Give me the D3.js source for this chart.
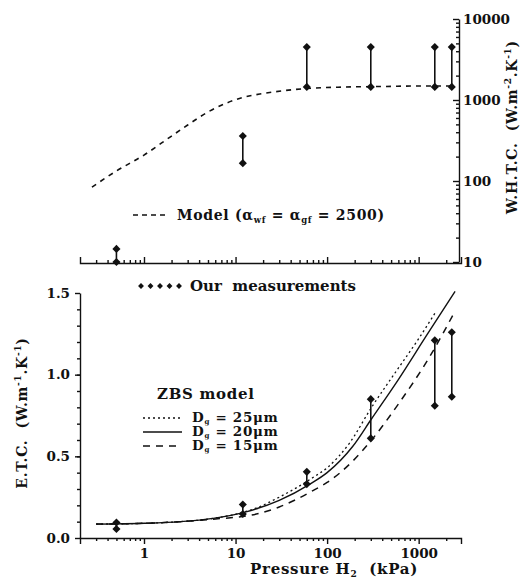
<!DOCTYPE html>
<html>
<head>
<meta charset="utf-8">
<script src="https://cdn.jsdelivr.net/npm/d3@7"></script>
<style>
    body { margin: 0; background: #fff; }
    svg { display: block; }
    text { font-family: "DejaVu Serif", "Liberation Serif", serif; font-weight: bold; fill: #111; white-space: pre; }
    .axis path, .axis line { stroke: #111; stroke-width: 1.4; }
    .axis text { font-size: 13.5px; font-family: "DejaVu Serif", serif; }
    .lbl { letter-spacing: 0.7px; }
</style>
</head>
<body>
<script>
// measurement pressures (kPa) and ranges
var pressures = [0.5, 12, 60, 300, 1500, 2300];
var whtcLow = [10, 166, 1450, 1450, 1450, 1450];
var whtcHigh = [14.5, 360, 4500, 4500, 4500, 4500];
var etcLow = [0.055, 0.147, 0.33, 0.61, 0.81, 0.865];
var etcHigh = [0.095, 0.205, 0.405, 0.85, 1.21, 1.26];

// W.H.T.C. model curve
var modelP = [0.27, 0.5, 1, 2, 3, 5, 8, 12, 20, 35, 60, 150, 400, 1000, 2300];
var modelW = [84, 133, 209, 359, 491, 711, 918, 1074, 1202, 1310, 1387, 1445, 1468, 1490, 1490];

// ZBS model curves
var zbsP25 = [0.3, 1, 2.5, 5.7, 18, 30, 70, 100, 175, 306, 600, 1000, 1520];
var zbs25 = [0.085, 0.09, 0.1, 0.12, 0.19, 0.25, 0.37, 0.43, 0.58, 0.8, 1.04, 1.22, 1.38];
var zbsP20 = [0.3, 1, 2.5, 5.7, 13, 30, 65, 100, 190, 306, 600, 1220, 2500];
var zbs20 = [0.085, 0.09, 0.1, 0.12, 0.16, 0.23, 0.33, 0.4, 0.56, 0.73, 0.97, 1.24, 1.51];
var zbsP15 = [0.3, 1, 2.5, 5.7, 18, 30, 70, 100, 190, 306, 600, 1320, 2500];
var zbs15 = [0.085, 0.09, 0.1, 0.115, 0.15, 0.19, 0.29, 0.34, 0.47, 0.6, 0.82, 1.11, 1.39];

var xMajor = [1, 10, 100, 1000];
var etcTicks = [0, 0.5, 1.0, 1.5];
var whtcTicks = [10, 100, 1000, 10000];

var width = 526, height = 580;
var svg = d3.select('body').append('svg')
    .attr('width', width)
    .attr('height', height);

var x = d3.scaleLog().domain([0.2, 2900]).range([80, 461]);
var yTop = d3.scaleLog().domain([10, 10000]).range([262, 19]);
var yBot = d3.scaleLinear().domain([0, 1.5]).range([538, 293]);

// minor tick values on log scales
function logMinor(lo, hi) {
    var out = [];
    for (var e = -1; e <= 4; e++) {
        for (var m = 2; m <= 9; m++) {
            var v = m * Math.pow(10, e);
            if (v >= lo && v <= hi) { out.push(v); }
        }
    }
    return out;
}

// ---- upper panel axes
svg.append('g').attr('class', 'axis')
    .attr('transform', 'translate(0,263)')
    .call(d3.axisTop(x).tickValues(xMajor).tickSize(6).tickFormat(''));
svg.append('g').attr('class', 'axis minor')
    .attr('transform', 'translate(0,263)')
    .call(d3.axisTop(x).tickValues(logMinor(0.3, 2900)).tickSize(3).tickFormat(''))
    .select('.domain').remove();

svg.append('g').attr('class', 'axis')
    .attr('transform', 'translate(459,0)')
    .call(d3.axisRight(yTop).tickValues(whtcTicks).tickSizeInner(-6).tickSizeOuter(0).tickPadding(4)
        .tickFormat(d3.format('d')));
svg.append('g').attr('class', 'axis minor')
    .attr('transform', 'translate(459,0)')
    .call(d3.axisRight(yTop).tickValues(logMinor(20, 9000)).tickSizeInner(-3).tickFormat(''))
    .select('.domain').remove();

// ---- lower panel axes
svg.append('g').attr('class', 'axis')
    .attr('transform', 'translate(0,538)')
    .call(d3.axisBottom(x).tickValues(xMajor).tickSize(6).tickPadding(4).tickFormat(d3.format('d')));
svg.append('g').attr('class', 'axis minor')
    .attr('transform', 'translate(0,538)')
    .call(d3.axisBottom(x).tickValues(logMinor(0.3, 2900)).tickSize(3).tickFormat(''))
    .select('.domain').remove();

svg.append('g').attr('class', 'axis')
    .attr('transform', 'translate(80,0)')
    .call(d3.axisLeft(yBot).tickValues(etcTicks).tickSizeInner(5).tickSizeOuter(0).tickPadding(5)
        .tickFormat(d3.format('.1f')));
svg.append('g').attr('class', 'axis minor')
    .attr('transform', 'translate(80,0)')
    .call(d3.axisLeft(yBot).tickValues(d3.range(0.1, 1.5, 0.1)).tickSize(3).tickFormat(''))
    .select('.domain').remove();

svg.selectAll('.minor line').attr('stroke-width', 1);

// ---- curves
function drawCurve(px, py, yScale, dash, sw) {
    var pts = px.map(function (p, i) { return [x(p), yScale(py[i])]; });
    svg.append('path')
        .attr('d', d3.line().curve(d3.curveMonotoneX)(pts))
        .attr('fill', 'none')
        .attr('stroke', '#111')
        .attr('stroke-width', sw)
        .attr('stroke-dasharray', dash);
}

drawCurve(modelP, modelW, yTop, '5,5', 1.6);
drawCurve(zbsP25, zbs25, yBot, '2,3', 1.3);
drawCurve(zbsP20, zbs20, yBot, null, 1.4);
drawCurve(zbsP15, zbs15, yBot, '7,6', 1.5);

// ---- measurement ranges
var diamond = d3.symbol().type(d3.symbolDiamond2).size(42);
function drawRanges(lo, hi, yScale) {
    var g = svg.append('g');
    pressures.forEach(function (p, i) {
        g.append('line')
            .attr('x1', x(p)).attr('x2', x(p))
            .attr('y1', yScale(lo[i])).attr('y2', yScale(hi[i]))
            .attr('stroke', '#111').attr('stroke-width', 1.6);
        [lo[i], hi[i]].forEach(function (v) {
            g.append('path')
                .attr('d', diamond())
                .attr('transform', 'translate(' + x(p) + ',' + yScale(v) + ')')
                .attr('fill', '#111');
        });
    });
}
drawRanges(whtcLow, whtcHigh, yTop);
drawRanges(etcLow, etcHigh, yBot);

// ---- legends
svg.append('line')
    .attr('x1', 133).attr('x2', 168).attr('y1', 215).attr('y2', 215)
    .attr('stroke', '#111').attr('stroke-width', 1.4).attr('stroke-dasharray', '5,4');
var mt = svg.append('text').attr('class', 'lbl').attr('x', 177).attr('y', 220).style('font-size', '14px');
mt.append('tspan').text('Model (\u03b1');
mt.append('tspan').attr('dy', 3).style('font-size', '8.5px').text('wf');
mt.append('tspan').attr('dy', -3).text(' = \u03b1');
mt.append('tspan').attr('dy', 3).style('font-size', '8.5px').text('gf');
mt.append('tspan').attr('dy', -3).text(' = 2500)');

var ms = svg.append('g');
d3.range(5).forEach(function (i) {
    ms.append('path')
        .attr('d', d3.symbol().type(d3.symbolDiamond2).size(22)())
        .attr('transform', 'translate(' + (141 + i * 9.5) + ',286)')
        .attr('fill', '#111');
});
svg.append('text').attr('x', 190).attr('y', 291).style('font-size', '15px').text('Our  measurements');

svg.append('text').attr('class', 'lbl').attr('x', 157).attr('y', 399).style('font-size', '15px').text('ZBS model');
var legendRows = [
    {y: 418, dash: '2,3', label: '25'},
    {y: 432, dash: null, label: '20'},
    {y: 446, dash: '7,6', label: '15'}
];
legendRows.forEach(function (r) {
    svg.append('line')
        .attr('x1', 143).attr('x2', 182).attr('y1', r.y).attr('y2', r.y)
        .attr('stroke', '#111').attr('stroke-width', 1.4).attr('stroke-dasharray', r.dash);
    var t = svg.append('text').attr('class', 'lbl').attr('x', 192).attr('y', r.y + 4).style('font-size', '13.5px');
    t.append('tspan').text('D');
    t.append('tspan').attr('dy', 2).style('font-size', '7px').text('g');
    t.append('tspan').attr('dy', -2).text(' = ' + r.label + '\u03bcm');
});

// ---- axis titles
var xt = svg.append('text').attr('class', 'lbl').attr('x', 334).attr('y', 574).attr('text-anchor', 'middle').style('font-size', '15px');
xt.append('tspan').text('Pressure H');
xt.append('tspan').attr('dy', 3).style('font-size', '9px').text('2');
xt.append('tspan').attr('dy', -3).text('  (kPa)');

function rotatedLabel(cx, cy, pre, exp1, mid, exp2) {
    var t = svg.append('text')
        .attr('class', 'lbl')
        .attr('transform', 'translate(' + cx + ',' + cy + ') rotate(-90)')
        .attr('text-anchor', 'middle')
        .style('font-size', '14px');
    t.append('tspan').text(pre);
    t.append('tspan').attr('dy', -6).style('font-size', '9px').text(exp1);
    t.append('tspan').attr('dy', 6).text(mid);
    t.append('tspan').attr('dy', -6).style('font-size', '9px').text(exp2);
    t.append('tspan').attr('dy', 6).text(')');
}
rotatedLabel(27, 413, 'E.T.C.  (W.m', '-1', '.K', '-1');
rotatedLabel(517, 127, 'W.H.T.C.  (W.m', '-2', '.K', '-1');
</script>
</body>
</html>
